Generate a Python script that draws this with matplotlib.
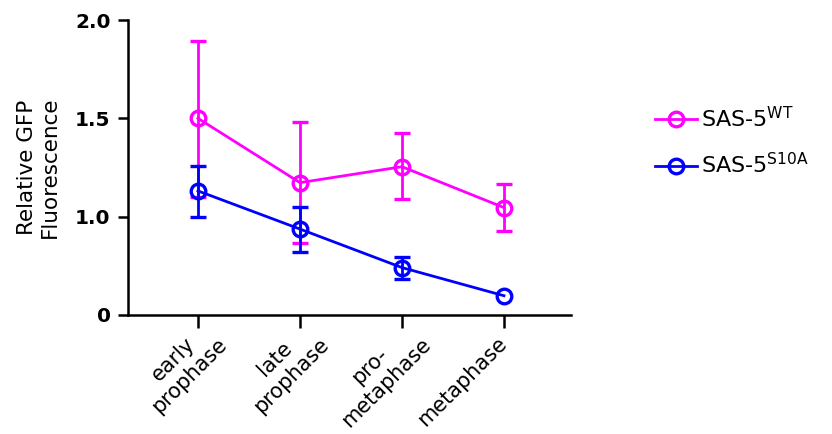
import matplotlib
matplotlib.use("Agg")
import matplotlib.pyplot as plt
import matplotlib.transforms as mtransforms
import numpy as np
from matplotlib.container import ErrorbarContainer

stages = ["early\nprophase", "late\nprophase", "pro-\nmetaphase", "metaphase"]
wt_mean = [1.50, 1.173, 1.254, 1.046]
wt_upper = [1.895, 1.48, 1.427, 1.165]
wt_lower = [1.10, 0.868, 1.088, 0.929]
s10a_mean = [1.131, 0.937, 0.741, 0.598]
s10a_upper = [1.259, 1.051, 0.797, np.nan]
s10a_lower = [1.00, 0.822, 0.682, np.nan]
ytick_vals = [0.5, 1.0, 1.5, 2.0]
ytick_labels = ["0", "1.0", "1.5", "2.0"]

WT_C = "#FF00FF"
S_C = "#0000FF"

fig = plt.figure(figsize=(8.32, 4.34), dpi=100)
ax = fig.add_axes([128/832, 1-315/434, (571-128)/832, (315-20)/434])

x = np.arange(len(stages))

def plot_series(mean, lo, hi, color, label):
    mean = np.array(mean); lo = np.array(lo); hi = np.array(hi)
    yerr = np.vstack([mean - lo, hi - mean])
    return ax.errorbar(x, mean, yerr=yerr, color=color, lw=2.0, elinewidth=2.0,
                       capsize=6, capthick=2.0, marker='o', ms=10.5, mew=2.4,
                       mfc='none', mec=color, label=label, clip_on=False)

plot_series(wt_mean, wt_lower, wt_upper, WT_C, r"SAS-5$^{\mathregular{WT}}$")
plot_series(s10a_mean, s10a_lower, s10a_upper, S_C, r"SAS-5$^{\mathregular{S10A}}$")

ax.set_xlim(-0.686, 3.657)
ax.set_ylim(0.5, 2.0)
ax.set_yticks(ytick_vals)
ax.set_yticklabels(ytick_labels, fontsize=14.5, fontweight='bold')
ax.set_xticks(x)
ax.set_xticklabels([""] * len(stages))
for sp in ['top', 'right']:
    ax.spines[sp].set_visible(False)
for sp in ['left', 'bottom']:
    ax.spines[sp].set_linewidth(1.8)
ax.tick_params(axis='y', width=1.8, length=7.5, direction='out', pad=5)
ax.tick_params(axis='x', width=1.8, length=9, direction='out', pad=8)
ax.set_ylabel("Relative GFP\nFluorescence", fontsize=15.5, labelpad=11)

# rotated category labels (multi-line labels shifted like the original layout)
base = ax.get_xaxis_transform()
for xi, lab in zip(x, stages):
    nlines = lab.count("\n") + 1
    dx, dy = (0.0, -18.5) if nlines == 1 else (12.7, -13.0)
    tr = base + mtransforms.ScaledTranslation(dx / 72, dy / 72, fig.dpi_scale_trans)
    ax.text(xi, 0, lab, transform=tr, fontsize=15, rotation=45,
            ha='right', va='center', rotation_mode='anchor',
            multialignment='center')

handles, labels = ax.get_legend_handles_labels()
hs = [h[0] if isinstance(h, ErrorbarContainer) else h for h in handles]
fig.legend(hs, labels, loc='upper left', bbox_to_anchor=(635/832, 1-86/434),
           frameon=False, fontsize=16, handlelength=1.9, labelspacing=0.95,
           handletextpad=0.15)

fig.savefig("out.png", dpi=100)
